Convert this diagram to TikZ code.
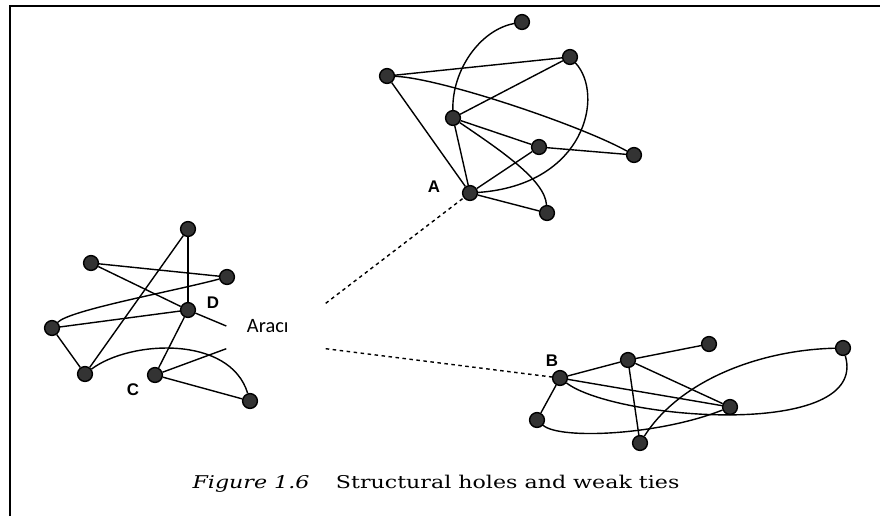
\documentclass[tikz,border=0pt]{standalone}
\usepackage{fontspec}
\setmainfont{DejaVu Serif}
\newfontfamily\tagfont{Liberation Sans}
\newfontfamily\notefont{Carlito}

\begin{document}
\begin{tikzpicture}[x=0.025cm, y=-0.025cm, line width=1pt,
    actor/.style={circle, draw=black, fill=black!80, minimum size=0.37cm, inner sep=0pt},
    tag/.style={font=\tagfont\bfseries\fontsize{12}{13}\selectfont, inner sep=0pt},
    weak/.style={dash pattern=on 2.5pt off 2.5pt}]
  \useasboundingbox (0,0) rectangle (880,516);

  % Frame
  \draw[line width=1.5pt] (10,516) -- (10,6) -- (880,6);

  % Top cluster
  \node[actor] (t1) at (522,22) {};
  \node[actor] (t2) at (570,57) {};
  \node[actor] (t3) at (387,76) {};
  \node[actor] (t4) at (453,118) {};
  \node[actor] (t5) at (539,147) {};
  \node[actor] (t6) at (634,155) {};
  \node[actor] (a) at (470,193) {};
  \node[actor] (t8) at (547,213) {};
  \node[tag] (labA) at (434,187) {A};

  \draw (t3) -- (t2);
  \draw (t3) -- (a);
  \draw (t4) -- (t2);
  \draw (t4) -- (t5);
  \draw (t4) -- (a);
  \draw (t5) -- (t6);
  \draw (t5) -- (a);
  \draw (a) -- (t8);
  \draw (t1) .. controls (480,30) and (452,70) .. (t4);
  \draw (t3) .. controls (440,78) and (580,125) .. (t6);
  \draw (t2) .. controls (605,95) and (585,185) .. (a);
  \draw (t4) .. controls (500,150) and (545,180) .. (t8);

  % Left cluster
  \node[actor] (l1) at (188,229) {};
  \node[actor] (l2) at (91,263) {};
  \node[actor] (l3) at (227,277) {};
  \node[actor] (d) at (188,310) {};
  \node[actor] (l5) at (52,328) {};
  \node[actor] (l6) at (85,374) {};
  \node[actor] (c) at (155,375) {};
  \node[actor] (l8) at (250,401) {};
  \node[tag] (labD) at (213,303) {D};
  \node[tag] (labC) at (133,390) {C};

  % Broker note
  \node[font=\notefont\fontsize{14.5}{16}\selectfont, text width=1.45cm, align=left,
        inner xsep=0.5cm, inner ysep=0pt, minimum height=1.1cm] (araci) at (276,326) {Aracı};

  \draw (l1) -- (d);
  \draw (l1) -- (l6);
  \draw (l2) -- (l3);
  \draw (l2) -- (d) -- (araci.west);
  \draw (l5) -- (d);
  \draw (l5) -- (l6);
  \draw (d) -- (c);
  \draw (c) -- (l8);
  \draw (c) -- (araci.south west);
  \draw (l5) .. controls (70,310) and (170,292) .. (l3);
  \draw (l6) .. controls (130,340) and (230,335) .. (l8);

  % Right cluster
  \node[actor] (b) at (560,378) {};
  \node[actor] (r2) at (628,360) {};
  \node[actor] (r3) at (709,344) {};
  \node[actor] (r4) at (843,348) {};
  \node[actor] (r5) at (730,407) {};
  \node[actor] (r6) at (537,420) {};
  \node[actor] (r7) at (640,443) {};
  \node[tag] (labB) at (552,361) {B};

  \draw (b) -- (r2);
  \draw (r2) -- (r3);
  \draw (b) -- (r5);
  \draw (r2) -- (r5);
  \draw (r2) -- (r7);
  \draw (b) -- (r6);
  \draw (b) .. controls (615,420) and (870,440) .. (r4);
  \draw (r7) .. controls (680,380) and (760,350) .. (r4);
  \draw (r6) .. controls (560,440) and (660,435) .. (r5);

  % Weak ties
  \draw[weak] (araci.north east) -- (a);
  \draw[weak] (araci.south east) -- (b);

  % Caption
  \node[xscale=1.26, font=\fontsize{12.5}{14}\selectfont] (caption) at (436,484)
    {\textit{Figure 1.6}\hspace{1.2em}Structural holes and weak ties};
\end{tikzpicture}
\end{document}
